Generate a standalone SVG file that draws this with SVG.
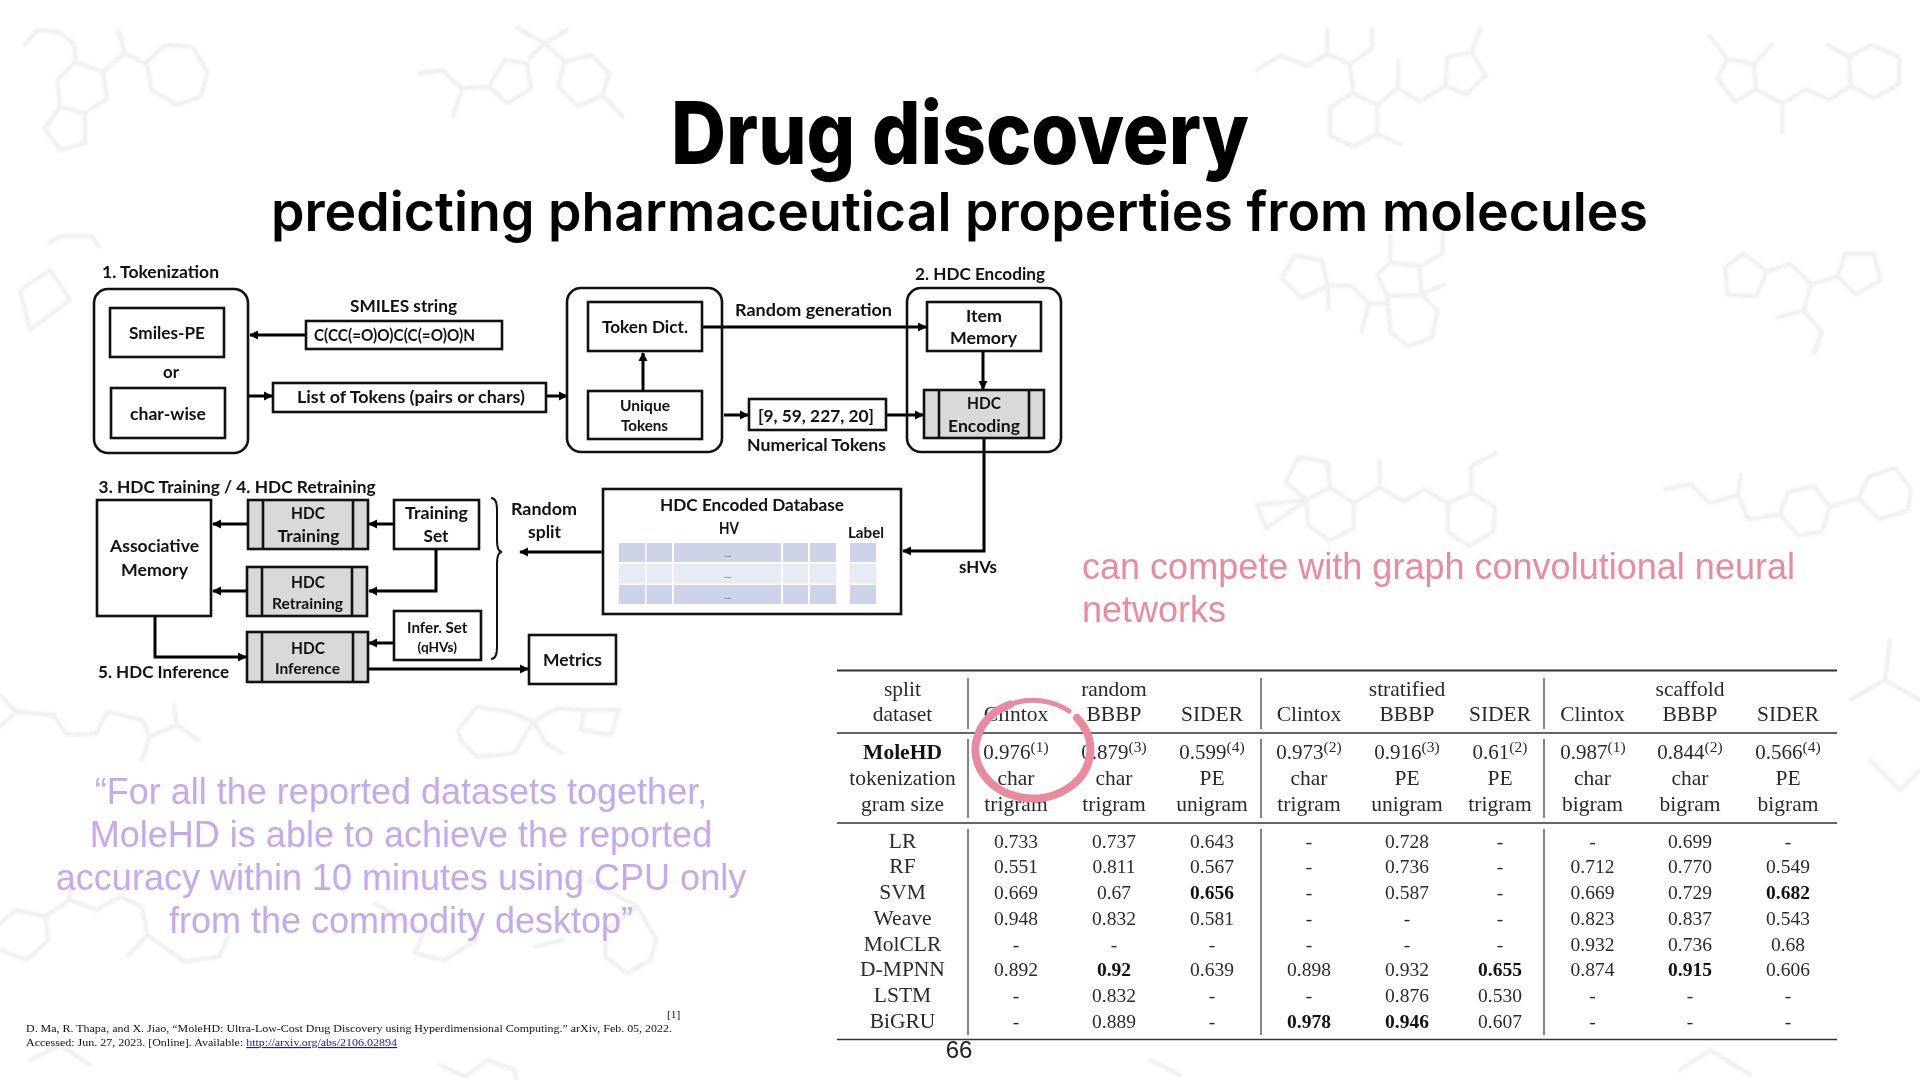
<svg xmlns="http://www.w3.org/2000/svg" width="1920" height="1080" viewBox="0 0 1920 1080">
<style>
.bg{fill:none;stroke:#f0f0f0;stroke-width:4.500;stroke-linejoin:round;stroke-linecap:round;vector-effect:non-scaling-stroke}
.b{fill:#fff;stroke:#111;stroke-width:2.6}
.g{fill:#d9d9d9;stroke:#111;stroke-width:2.6}
.l{fill:none;stroke:#111;stroke-width:2.6}
.c{fill:none;stroke:#000;stroke-width:3;marker-end:url(#ah)}
.d{font-family:Lato,"Liberation Sans",sans-serif;font-weight:700;font-size:17.5px;fill:#111}
.t{font-family:"Liberation Serif",serif;font-size:19.5px;fill:#2a2a2a;text-anchor:middle}
.w{font-size:21.5px}
.v{font-size:21px}
.s{font-size:15.5px}
.tb{font-weight:700;fill:#111}
.tl{stroke:#333;stroke-width:1.6;fill:none}
.tv{stroke:#666;stroke-width:1.6;fill:none}
.cell{fill:#cdd4ea}.cell2{fill:#e8ebf5}
.dots{font-family:Lato,sans-serif;font-size:9px;fill:#555;text-anchor:middle}
.pink{font-family:"Liberation Sans",sans-serif;font-size:36px;fill:#e98a9e}
.lil{font-family:"Liberation Sans",sans-serif;font-size:36px;fill:#c6a8ec;text-anchor:middle}
.fn{font-family:"Liberation Serif",serif;font-size:11.4px;fill:#111}
</style>
<defs>
<marker id="ah" markerUnits="userSpaceOnUse" markerWidth="10" markerHeight="10" refX="8" refY="5" orient="auto"><path d="M0,0.5L9,5L0,9.5Z" fill="#000"/></marker>
<filter id="soft" x="-5%" y="-5%" width="110%" height="110%"><feGaussianBlur stdDeviation="0.9"/></filter>
</defs>
<rect width="1920" height="1080" fill="#fff"/>
<g id="background" filter="url(#soft)">
<g transform="translate(0,0) scale(.4464,.3333)">
<path class="bg" d="M55,135 85,90 130,95 165,130 170,185 230,215 240,295 190,340 135,320 128,240 170,185M230,215 280,160 325,190 370,135 430,140 465,215 450,290 395,315 340,270 330,200M280,160 265,90M135,320 100,385 135,450 190,430 190,340"/>
<path class="bg" d="M940,220 990,210 1035,265 1095,260 1130,180 1180,190 1190,265 1135,310 1095,260M1035,265 1015,350M1185,175 1220,130 1265,185M1220,130 1160,85M1220,130 1270,90M1265,185 1325,165 1365,220 1350,285 1295,320 1250,260 1265,185M1350,285 1395,350"/>
</g>
<g transform="translate(1100,0) scale(.523,.357)">
<path class="bg" d="M300,195 345,155 395,185 435,150 478,180 520,135M435,150 435,80M520,135 520,80M478,180 483,250M483,260 530,295 530,375 483,410 440,380 440,300 483,260M530,295 570,245 610,285 660,240M570,245 570,170M530,375 575,405M660,240 665,160 710,145 738,210 700,265 660,240M710,145 728,80"/>
<path class="bg" d="M1165,100 1200,165 1250,180 1285,125M1200,165 1180,220 1215,285 1255,250 1250,180M1255,250 1305,290 1350,250 1395,280 1435,240M1305,290 1305,370M1435,240 1432,160 1475,125 1528,160 1528,235 1480,275 1435,240M1432,160 1390,125"/>
<path class="bg" d="M372,715 425,730 435,800 385,835 348,780 372,715M435,800 437,865M435,800 480,800 515,850 500,930M515,850 550,850M550,830 530,770 555,735 610,745 615,825 550,830M555,735 555,660M615,745 655,710 655,650M615,825 645,870 635,945 590,970 555,930 550,830M615,825 660,795"/>
<path class="bg" d="M1230,710 1275,760 1255,830 1200,825 1195,750 1230,710M1275,760 1320,740 1360,795 1410,775M1425,710 1480,710 1492,785 1445,825 1410,775 1425,710M1360,795 1345,870 1380,930 1365,990M1345,870 1295,890"/>
<path class="bg" d="M395,1400 440,1365 485,1410 485,1480 440,1515 397,1470 395,1400M395,1400 355,1350 380,1280 435,1295 440,1365M395,1400 300,1415 318,1480 395,1400M485,1410 535,1365 580,1405 620,1370 665,1410M535,1365 535,1290M665,1410 710,1380 755,1420 752,1490 705,1530 665,1490 665,1410M710,1380 710,1305 758,1270"/>
<path class="bg" d="M1080,1370 1130,1355 1165,1410 1220,1385 1240,1455 1300,1440M1220,1385 1225,1330M1300,1440 1315,1380 1365,1360 1395,1420 1380,1490 1335,1500 1300,1440M1395,1420 1450,1395M1450,1395 1470,1335 1520,1310 1550,1370 1545,1430 1490,1455 1450,1395"/>
</g>
<g transform="translate(0,640) scale(.5357,.3333)">
<path class="bg" d="M0,165 30,215 100,225 125,285 180,280 200,215 265,240 280,290 330,255M280,290 265,360M330,255 325,195M330,255 370,300M0,260 30,215"/>
<path class="bg" d="M855,270 890,200 950,215 995,245 960,340 890,350 860,300 855,270M995,245 1020,310 1050,340M995,245 1040,205 1090,210 1085,270 1140,285 1155,210 1090,210"/>
<path class="bg" d="M0,850 30,810 85,830 130,780 180,810 225,770 265,800 275,885 240,945M85,830 90,900 50,960 0,930M275,885 345,965 410,950 425,890M130,780 130,730"/>
<path class="bg" d="M700,790 790,880 775,940 830,960 890,900 880,830M1100,720 1190,800 1225,900 1215,960 1170,1000 1130,950 1130,870 1190,800M1000,920 1050,900"/>
<path class="bg" d="M820,1275 870,1310 910,1260 960,1290 965,1320"/>
</g>
<path class="bg" d="M50,242 62,236 92,236 98,246M70,300 30,330 20,290 50,270 70,300M1850,700 1885,680 1920,700M1885,680 1890,640M1870,760 1900,790 1920,770M1680,1070 1710,1050 1750,1075M1150,1060 1180,1075M30,1060 60,1045 90,1065"/>
</g>

<g id="title">
<text x="671" y="164" font-family="Inter,'Liberation Sans',sans-serif" font-weight="800" font-size="86" fill="#000" textLength="578" lengthAdjust="spacingAndGlyphs">Drug discovery</text>
<text x="271" y="231" font-family="Inter,'Liberation Sans',sans-serif" font-weight="600" font-size="54" fill="#000" textLength="1377" lengthAdjust="spacingAndGlyphs">predicting pharmaceutical properties from molecules</text>
</g>

<g id="connectors">
<path class="c" d="M306,335H250"/>
<path class="c" d="M249,396H272"/>
<path class="c" d="M546,396H567"/>
<path class="c" d="M643,391V353"/>
<path class="c" d="M703,327H926"/>
<path class="c" d="M724,415H748"/>
<path class="c" d="M886,415H923"/>
<path class="c" d="M983,351V389"/>
<path class="c" d="M984,438V551H903"/>
<path class="c" d="M603,552H520"/>
<path class="c" d="M248,524H213"/>
<path class="c" d="M394,524H369"/>
<path class="c" d="M436,549V591H369"/>
<path class="c" d="M247,591H213"/>
<path class="c" d="M155,616V657H246"/>
<path class="c" d="M394,643H369"/>
<path class="c" d="M368,669H528"/>
<path class="l" d="M491,498Q497,498 497,510V540Q497,552 502,552Q497,552 497,564V647Q497,659 491,659" style="stroke-width:2"/>
</g>

<g id="tokenization">
<rect class="l" x="94" y="289" width="154" height="164" rx="14"/>
<text class="d" x="102" y="278" textLength="117" lengthAdjust="spacingAndGlyphs">1. Tokenization</text>
</g>
<g id="smiles-pe"><rect class="b" x="110" y="308" width="114" height="49"/><text class="d" x="129" y="339" textLength="76" lengthAdjust="spacingAndGlyphs">Smiles-PE</text></g>
<text class="d" x="163" y="378" textLength="16" lengthAdjust="spacingAndGlyphs">or</text>
<g id="char-wise"><rect class="b" x="111" y="388" width="114" height="50"/><text class="d" x="130" y="420" textLength="76" lengthAdjust="spacingAndGlyphs">char-wise</text></g>
<g id="smiles-string"><rect class="b" x="306" y="321" width="196" height="28"/><text class="d" x="350" y="312" textLength="107" lengthAdjust="spacingAndGlyphs">SMILES string</text><text class="d" x="314" y="341" textLength="161" lengthAdjust="spacingAndGlyphs">C(CC(=O)O)C(C(=O)O)N</text></g>
<g id="list-of-tokens"><rect class="b" x="273" y="383" width="273" height="29"/><text class="d" x="297" y="403" textLength="228" lengthAdjust="spacingAndGlyphs">List of Tokens (pairs or chars)</text></g>
<g id="dict-group"><rect class="l" x="567" y="288" width="155" height="164" rx="14"/></g>
<g id="token-dict"><rect class="b" x="588" y="302" width="114" height="49"/><text class="d" x="602" y="333" textLength="86" lengthAdjust="spacingAndGlyphs">Token Dict.</text></g>
<g id="unique-tokens"><rect class="b" x="588" y="391" width="114" height="48"/><text class="d" x="620" y="411" style="font-size:16px" textLength="50" lengthAdjust="spacingAndGlyphs">Unique</text><text class="d" x="621" y="431" style="font-size:16px" textLength="47" lengthAdjust="spacingAndGlyphs">Tokens</text></g>
<text class="d" x="735" y="316" textLength="157" lengthAdjust="spacingAndGlyphs">Random generation</text>
<g id="numerical-tokens"><rect class="b" x="749" y="399" width="137" height="31"/><text class="d" x="758" y="422" textLength="116" lengthAdjust="spacingAndGlyphs">[9, 59, 227, 20]</text><text class="d" x="747" y="451" textLength="139" lengthAdjust="spacingAndGlyphs">Numerical Tokens</text></g>
<g id="hdc-encoding-group"><rect class="l" x="907" y="288" width="154" height="164" rx="14"/><text class="d" x="915" y="280" textLength="130" lengthAdjust="spacingAndGlyphs">2. HDC Encoding</text></g>
<g id="item-memory"><rect class="b" x="927" y="302" width="114" height="49"/><text class="d" x="966" y="322" textLength="36" lengthAdjust="spacingAndGlyphs">Item</text><text class="d" x="950" y="344" textLength="67" lengthAdjust="spacingAndGlyphs">Memory</text></g>
<g id="hdc-encoding"><rect class="g" x="924" y="390" width="120" height="48"/><path class="l" d="M939,390V438M1029,390V438"/><text class="d" x="967" y="409" textLength="34" lengthAdjust="spacingAndGlyphs">HDC</text><text class="d" x="948" y="432" textLength="72" lengthAdjust="spacingAndGlyphs">Encoding</text></g>

<text class="d" x="98.600" y="493" textLength="277" lengthAdjust="spacingAndGlyphs">3. HDC Training / 4. HDC Retraining</text>
<g id="associative-memory"><rect class="b" x="97" y="500" width="114" height="116"/><text class="d" x="110" y="552" textLength="89" lengthAdjust="spacingAndGlyphs">Associative</text><text class="d" x="121" y="576" textLength="67" lengthAdjust="spacingAndGlyphs">Memory</text></g>
<g id="hdc-training"><rect class="g" x="248" y="500" width="120" height="49"/><path class="l" d="M263,500V549M353,500V549"/><text class="d" x="291" y="519" textLength="34" lengthAdjust="spacingAndGlyphs">HDC</text><text class="d" x="277.500" y="542" textLength="62" lengthAdjust="spacingAndGlyphs">Training</text></g>
<g id="training-set"><rect class="b" x="394" y="500" width="85" height="49"/><text class="d" x="405" y="519" textLength="63" lengthAdjust="spacingAndGlyphs">Training</text><text class="d" x="423.500" y="542" textLength="25" lengthAdjust="spacingAndGlyphs">Set</text></g>
<g id="hdc-retraining"><rect class="g" x="247" y="567" width="120" height="49"/><path class="l" d="M262,567V616M352,567V616"/><text class="d" x="291" y="588" textLength="34" lengthAdjust="spacingAndGlyphs">HDC</text><text class="d" x="272" y="609" style="font-size:15.500px" textLength="71" lengthAdjust="spacingAndGlyphs">Retraining</text></g>
<g id="hdc-inference"><rect class="g" x="247" y="632" width="121" height="50"/><path class="l" d="M262,632V682M353,632V682"/><text class="d" x="291" y="654" textLength="34" lengthAdjust="spacingAndGlyphs">HDC</text><text class="d" x="275" y="674" style="font-size:15.500px" textLength="65" lengthAdjust="spacingAndGlyphs">Inference</text></g>
<g id="infer-set"><rect class="b" x="394" y="611" width="87" height="49"/><text class="d" x="407" y="633" style="font-size:15.500px" textLength="60.500" lengthAdjust="spacingAndGlyphs">Infer. Set</text><text class="d" x="417.500" y="652" style="font-size:14px" textLength="39.500" lengthAdjust="spacingAndGlyphs">(qHVs)</text></g>
<g id="metrics"><rect class="b" x="529" y="635" width="87" height="49"/><text class="d" x="543" y="666" textLength="59" lengthAdjust="spacingAndGlyphs">Metrics</text></g>
<text class="d" x="98" y="678" textLength="131" lengthAdjust="spacingAndGlyphs">5. HDC Inference</text>
<text class="d" x="511" y="515" textLength="66" lengthAdjust="spacingAndGlyphs">Random</text>
<text class="d" x="528" y="538" textLength="33" lengthAdjust="spacingAndGlyphs">split</text>
<text class="d" x="959" y="573" textLength="38" lengthAdjust="spacingAndGlyphs">sHVs</text>
<g id="encoded-database">
<rect class="b" x="603" y="489" width="298" height="125"/>
<text class="d" x="660" y="511" textLength="184" lengthAdjust="spacingAndGlyphs">HDC Encoded Database</text>
<text class="d" x="719" y="534" textLength="20" lengthAdjust="spacingAndGlyphs">HV</text>
<text class="d" x="848" y="538" style="font-size:16px" textLength="36" lengthAdjust="spacingAndGlyphs">Label</text>
<path class="cell" d="M619,543h26v19h-26zM646.500,543h25.500v19h-25.500zM674,543h107v19h-107zM783,543h25v19h-25zM810,543h26v19h-26zM850,543h26v19h-26zM619,585h26v19h-26zM646.500,585h25.500v19h-25.500zM674,585h107v19h-107zM783,585h25v19h-25zM810,585h26v19h-26zM850,585h26v19h-26z"/>
<path class="cell2" d="M619,564h26v19.500h-26zM646.500,564h25.500v19.500h-25.500zM674,564h107v19.500h-107zM783,564h25v19.500h-25zM810,564h26v19.500h-26zM850,564h26v19.500h-26z"/>
<text class="dots" x="728" y="557">...</text><text class="dots" x="728" y="578">...</text><text class="dots" x="728" y="599">...</text>
</g>

<g id="results-table">
<rect x="837" y="666" width="1003" height="380" fill="#fff"/>
<path class="tl" d="M837,670.500H1837" style="stroke-width:2"/>
<path class="tl" d="M837,733H1837M837,823H1837M837,1039.500H1837"/>
<path class="tv" d="M968,678V729M1261,678V729M1544,678V729M968,739V818M1261,739V818M1544,739V818M968,829V1035M1261,829V1035M1544,829V1035"/>
<g class="t w">
<text x="902.500" y="696">split</text><text x="1114" y="696">random</text><text x="1407" y="696">stratified</text><text x="1690" y="696">scaffold</text>
<text x="902.500" y="721">dataset</text><text x="1016" y="721">Clintox</text><text x="1114" y="721">BBBP</text><text x="1212" y="721">SIDER</text><text x="1309" y="721">Clintox</text><text x="1407" y="721">BBBP</text><text x="1500" y="721">SIDER</text><text x="1592.500" y="721">Clintox</text><text x="1690" y="721">BBBP</text><text x="1788" y="721">SIDER</text>
<text class="tb" x="902.500" y="759">MoleHD</text>
<text x="902.500" y="785">tokenization</text><text x="1016" y="785">char</text><text x="1114" y="785">char</text><text x="1212" y="785">PE</text><text x="1309" y="785">char</text><text x="1407" y="785">PE</text><text x="1500" y="785">PE</text><text x="1592.500" y="785">char</text><text x="1690" y="785">char</text><text x="1788" y="785">PE</text>
<text x="902.500" y="811">gram size</text><text x="1016" y="811">trigram</text><text x="1114" y="811">trigram</text><text x="1212" y="811">unigram</text><text x="1309" y="811">trigram</text><text x="1407" y="811">unigram</text><text x="1500" y="811">trigram</text><text x="1592.500" y="811">bigram</text><text x="1690" y="811">bigram</text><text x="1788" y="811">bigram</text>
<text x="902.500" y="847.500">LR</text><text x="902.500" y="873.300">RF</text><text x="902.500" y="899">SVM</text><text x="902.500" y="924.800">Weave</text><text x="902.500" y="950.600">MolCLR</text><text x="902.500" y="976.400">D-MPNN</text><text x="902.500" y="1002.200">LSTM</text><text x="902.500" y="1028">BiGRU</text>
</g>
<g class="t v">
<text x="1016" y="759">0.976<tspan class="s" dy="-7">(1)</tspan></text><text x="1114" y="759">0.879<tspan class="s" dy="-7">(3)</tspan></text><text x="1212" y="759">0.599<tspan class="s" dy="-7">(4)</tspan></text><text x="1309" y="759">0.973<tspan class="s" dy="-7">(2)</tspan></text><text x="1407" y="759">0.916<tspan class="s" dy="-7">(3)</tspan></text><text x="1500" y="759">0.61<tspan class="s" dy="-7">(2)</tspan></text><text x="1593" y="759">0.987<tspan class="s" dy="-7">(1)</tspan></text><text x="1690" y="759">0.844<tspan class="s" dy="-7">(2)</tspan></text><text x="1788" y="759">0.566<tspan class="s" dy="-7">(4)</tspan></text>
</g>
<g class="t">
<text x="1016" y="847.500">0.733</text><text x="1114" y="847.500">0.737</text><text x="1212" y="847.500">0.643</text><text x="1309" y="847.500">-</text><text x="1407" y="847.500">0.728</text><text x="1500" y="847.500">-</text><text x="1592.500" y="847.500">-</text><text x="1690" y="847.500">0.699</text><text x="1788" y="847.500">-</text>
<text x="1016" y="873.300">0.551</text><text x="1114" y="873.300">0.811</text><text x="1212" y="873.300">0.567</text><text x="1309" y="873.300">-</text><text x="1407" y="873.300">0.736</text><text x="1500" y="873.300">-</text><text x="1592.500" y="873.300">0.712</text><text x="1690" y="873.300">0.770</text><text x="1788" y="873.300">0.549</text>
<text x="1016" y="899">0.669</text><text x="1114" y="899">0.67</text><text class="tb" x="1212" y="899">0.656</text><text x="1309" y="899">-</text><text x="1407" y="899">0.587</text><text x="1500" y="899">-</text><text x="1592.500" y="899">0.669</text><text x="1690" y="899">0.729</text><text class="tb" x="1788" y="899">0.682</text>
<text x="1016" y="924.800">0.948</text><text x="1114" y="924.800">0.832</text><text x="1212" y="924.800">0.581</text><text x="1309" y="924.800">-</text><text x="1407" y="924.800">-</text><text x="1500" y="924.800">-</text><text x="1592.500" y="924.800">0.823</text><text x="1690" y="924.800">0.837</text><text x="1788" y="924.800">0.543</text>
<text x="1016" y="950.600">-</text><text x="1114" y="950.600">-</text><text x="1212" y="950.600">-</text><text x="1309" y="950.600">-</text><text x="1407" y="950.600">-</text><text x="1500" y="950.600">-</text><text x="1592.500" y="950.600">0.932</text><text x="1690" y="950.600">0.736</text><text x="1788" y="950.600">0.68</text>
<text x="1016" y="976.400">0.892</text><text class="tb" x="1114" y="976.400">0.92</text><text x="1212" y="976.400">0.639</text><text x="1309" y="976.400">0.898</text><text x="1407" y="976.400">0.932</text><text class="tb" x="1500" y="976.400">0.655</text><text x="1592.500" y="976.400">0.874</text><text class="tb" x="1690" y="976.400">0.915</text><text x="1788" y="976.400">0.606</text>
<text x="1016" y="1002.200">-</text><text x="1114" y="1002.200">0.832</text><text x="1212" y="1002.200">-</text><text x="1309" y="1002.200">-</text><text x="1407" y="1002.200">0.876</text><text x="1500" y="1002.200">0.530</text><text x="1592.500" y="1002.200">-</text><text x="1690" y="1002.200">-</text><text x="1788" y="1002.200">-</text>
<text x="1016" y="1028">-</text><text x="1114" y="1028">0.889</text><text x="1212" y="1028">-</text><text class="tb" x="1309" y="1028">0.978</text><text class="tb" x="1407" y="1028">0.946</text><text x="1500" y="1028">0.607</text><text x="1592.500" y="1028">-</text><text x="1690" y="1028">-</text><text x="1788" y="1028">-</text>
</g>
</g>
<g id="circle-highlight" fill="none" stroke="#e98a9e" stroke-linecap="round">
<path d="M1077,718A57.500,49 0 1 1 1010,704.500" stroke-width="8"/>
<path d="M1010,704.500A57.500,49 0 0 1 1069,711" stroke-width="5"/>
</g>

<g id="notes">
<text class="pink" x="1082" y="579" textLength="713" lengthAdjust="spacingAndGlyphs">can compete with graph convolutional neural</text>
<text class="pink" x="1082" y="622">networks</text>
<text class="lil" x="401" y="804">“For all the reported datasets together,</text>
<text class="lil" x="401" y="847">MoleHD is able to achieve the reported</text>
<text class="lil" x="401" y="890">accuracy within 10 minutes using CPU only</text>
<text class="lil" x="401" y="933">from the commodity desktop”</text>
</g>
<g id="citation">
<text class="fn" x="667" y="1018">[1]</text>
<text class="fn" x="26" y="1032" textLength="646" lengthAdjust="spacingAndGlyphs">D. Ma, R. Thapa, and X. Jiao, “MoleHD: Ultra-Low-Cost Drug Discovery using Hyperdimensional Computing.” arXiv, Feb. 05, 2022.</text>
<text class="fn" x="26" y="1046" textLength="371" lengthAdjust="spacingAndGlyphs">Accessed: Jun. 27, 2023. [Online]. Available: <tspan fill="#1a1a9c" text-decoration="underline">http://arxiv.org/abs/2106.02894</tspan></text>
</g>
<text x="959" y="1058" font-family="'Liberation Sans',sans-serif" font-size="24" fill="#222" text-anchor="middle">66</text>
</svg>
